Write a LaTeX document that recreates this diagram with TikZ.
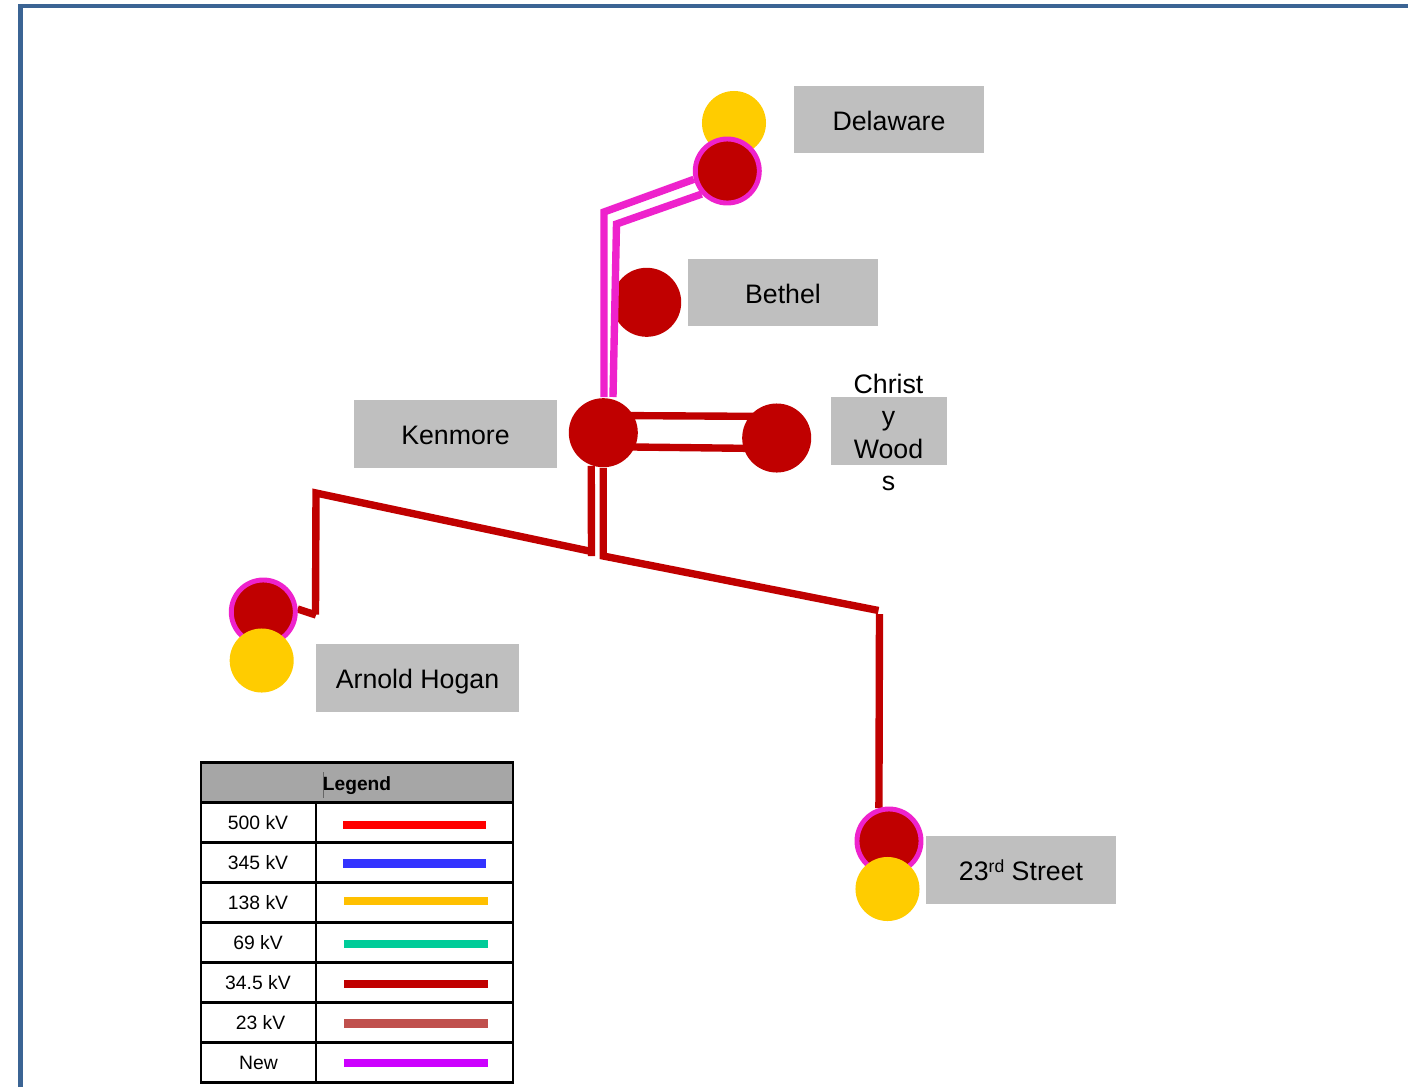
\documentclass[tikz,border=0pt]{standalone}
\usepackage{fontspec}
\setmainfont{Liberation Sans}
\usetikzlibrary{backgrounds}
\definecolor{busred}{HTML}{C00000}
\definecolor{busyellow}{HTML}{FFCC00}
\definecolor{newline}{HTML}{EE22CC}
\definecolor{labelgray}{HTML}{BFBFBF}
\definecolor{framecol}{HTML}{3B6494}
\tikzset{
  bus/.style={circle,fill=busred,inner sep=0pt,minimum size=0.69cm},
  newbus/.style={bus,draw=newline,line width=1.4pt,minimum size=0.64cm},
  lowbus/.style={circle,fill=busyellow,inner sep=0pt,minimum size=0.64cm},
  stationlabel/.style={fill=labelgray,inner sep=0pt,minimum width=1.9cm,minimum height=0.675cm,text height=6pt,text depth=0pt,font=\fontsize{7.6}{9.2}\selectfont},
  feeder/.style={busred,line width=2.1pt},
  newfeeder/.style={newline,line width=2.1pt},
  legendrule/.style={line width=0.85pt},
  legendtext/.style={inner sep=0pt,text height=3.8pt,text depth=0pt,font=\fontsize{5.5}{6.6}\selectfont},
  swatch/.style={inner sep=0pt,minimum width=1.44cm,minimum height=0.08cm}
}
\begin{document}
\begin{tikzpicture}[x=0.01cm,y=-0.01cm]
\useasboundingbox (0,0) rectangle (1408,1087);
\draw[framecol,line width=1.4pt] (20.5,1087) -- (20.5,6) -- (1408,6);
% stations
\node[lowbus] (delawarelow) at (734,123) {};
\node[newbus] (delaware) at (727.3,171) {};
\node[bus] (kenmore) at (603.3,432.7) {};
\node[bus] (christy) at (776.7,438) {};
\node[newbus] (arnold) at (263.3,612) {};
\node[lowbus] (arnoldlow) at (261.7,660.5) {};
\node[newbus] (street) at (889,841) {};
\node[lowbus] (streetlow) at (887.5,889) {};
% labels
\node[stationlabel] (delawarelabel) at (889,119.5) {Delaware};
\node[stationlabel] (bethellabel) at (783,292.5) {Bethel};
\node[stationlabel,minimum width=2.03cm] (kenmorelabel) at (455.5,434) {Kenmore};
\node[stationlabel,minimum width=1.16cm] (christybox) at (889,431) {};
\node[font=\fontsize{7.6}{9.2}\selectfont,align=center,inner sep=0pt] (christylabel) at (888.5,432.5) {Christ\\y\\Wood\\s};
\node[stationlabel,minimum width=2.03cm] (arnoldlabel) at (417.5,678) {Arnold Hogan};
\node[stationlabel] (streetlabel) at (1021,870) {23\raisebox{0.3em}{\fontsize{5}{6}\selectfont rd} Street};
% lines
\coordinate (elbowa) at (604,212);
\coordinate (elbowb) at (616.5,224);
\coordinate (dropl) at (591.5,556);
\coordinate (sagl) at (591.5,551.5);
\coordinate (topl) at (316,493);
\coordinate (botl) at (315.5,614.5);
\coordinate (hookl) at (316,615);
\coordinate (dropr) at (603.3,556);
\coordinate (sagr) at (878.5,610.5);
\coordinate (topr) at (879.5,614);
\begin{pgfonlayer}{background}
\node[bus] (bethel) at (646.7,302.3) {};
\draw[newfeeder] (604,397) -- (elbowa) -- (delaware.194);
\draw[newfeeder] (613,397) -- (elbowb) -- (delaware.222);
\draw[feeder,shorten <=-2pt,shorten >=-2pt] (kenmore.29) -- (christy.142);
\draw[feeder,shorten <=-2pt,shorten >=-2pt] (kenmore.-24) -- (christy.197);
\draw[feeder] (kenmore.-110) -- (dropl);
\draw[feeder] (sagl) -- (topl) -- (botl);
\draw[feeder] (hookl) -- (arnold.5);
\draw[feeder] (kenmore.south) -- (dropr) -- (sagr);
\draw[feeder] (topr) -- (street.107);
\end{pgfonlayer}
% legend
\fill[black!35] (201,762) rectangle (513,802);
\node[legendtext,font=\fontsize{5.45}{6.6}\selectfont\bfseries] (legendhead) at (357,783.5) {Legend};
\draw[black!60,line width=0.4pt] (323.5,772) -- (323.5,798);
\draw[legendrule] (201,762) rectangle (513,1082);
\draw[legendrule] (201,802) -- (513,802);
\draw[legendrule] (201,842) -- (513,842);
\draw[legendrule] (201,882) -- (513,882);
\draw[legendrule] (201,922) -- (513,922);
\draw[legendrule] (201,962) -- (513,962);
\draw[legendrule] (201,1002) -- (513,1002);
\draw[legendrule] (201,1042) -- (513,1042);
\draw[legendrule] (316,802) -- (316,1082);
\node[legendtext] (kva) at (258,823) {500 kV};
\node[legendtext] (kvb) at (258,863) {345 kV};
\node[legendtext] (kvc) at (258,903) {138 kV};
\node[legendtext] (kvd) at (258,943) {69 kV};
\node[legendtext] (kve) at (258,983) {34.5 kV};
\node[legendtext] (kvf) at (260.5,1023) {23 kV};
\node[legendtext] (kvg) at (258.5,1063) {New};
\node[swatch,fill=red,minimum width=1.43cm] (swa) at (414.5,824.5) {};
\node[swatch,fill={rgb,255:red,51;green,51;blue,255},minimum width=1.43cm,minimum height=0.09cm] (swb) at (414.5,863.5) {};
\node[swatch,fill={rgb,255:red,255;green,192;blue,0}] (swc) at (416,900.5) {};
\node[swatch,fill={rgb,255:red,0;green,204;blue,153}] (swd) at (416,944) {};
\node[swatch,fill=busred] (swe) at (416,984) {};
\node[swatch,fill={rgb,255:red,192;green,80;blue,77},minimum height=0.09cm] (swf) at (416,1023) {};
\node[swatch,fill={rgb,255:red,204;green,0;blue,255}] (swg) at (416,1062.5) {};
\end{tikzpicture}
\end{document}
